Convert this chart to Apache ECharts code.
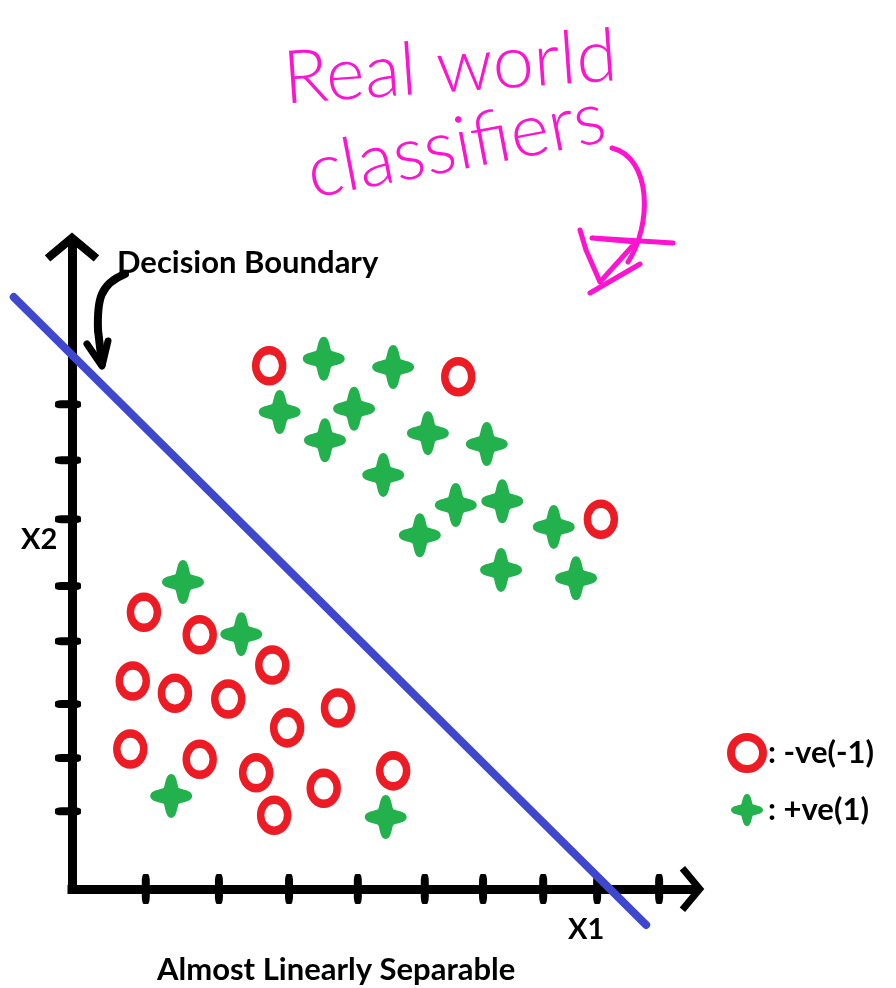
<!DOCTYPE html>
<html>
<head>
<meta charset="utf-8">
<script src="https://cdn.jsdelivr.net/npm/echarts@6/dist/echarts.min.js"></script>
<style>
  html, body { margin: 0; padding: 0; background: #fff; }
  #chart { width: 896px; height: 988px; }
</style>
</head>
<body>
<div id="chart"></div>
<script>
// Class +1 samples (green stars), [X1, X2]
const positivePoints = [
  [4.06, 8.26], [5.18, 8.13], [3.35, 7.43], [4.55, 7.48], [4.08, 6.99],
  [5.74, 7.10], [6.69, 6.93], [5.02, 6.45], [6.19, 5.98], [6.94, 6.04],
  [5.61, 5.51], [7.77, 5.64], [6.92, 4.97], [8.13, 4.84], [1.79, 4.78],
  [2.73, 3.97], [1.60, 1.45], [5.06, 1.12]
];
// Class -1 samples (red rings), [X1, X2]
const negativePoints = [
  [3.18, 8.15], [6.23, 7.98], [8.53, 5.76], [1.16, 4.31], [2.06, 3.96],
  [3.23, 3.49], [0.98, 3.24], [1.66, 3.05], [2.52, 2.96], [3.47, 2.51],
  [4.29, 2.82], [0.94, 2.18], [2.06, 2.02], [2.97, 1.81], [4.06, 1.57],
  [5.18, 1.84], [3.26, 1.15]
];
// Separating line end points
const boundaryStart = [-0.94, 9.22];
const boundaryEnd = [9.26, -0.56];
// Hand-placed tick marks along each axis
const x1Ticks = [1.19, 2.37, 3.50, 4.61, 5.69, 6.63, 7.60, 8.47, 9.47];
const x2Ticks = [1.21, 2.04, 2.88, 3.86, 4.72, 5.76, 6.68, 7.55];

const seriesNames = [': -ve(-1)', ': +ve(1)'];

const RED = '#ED1C24';
const GREEN = '#22B14C';
const BLUE = '#3F48CC';
const PINK = '#FF12D0';

const ringPath = 'path://M50,0 C77.6,0 100,22.4 100,50 C100,77.6 77.6,100 50,100 C22.4,100 0,77.6 0,50 C0,22.4 22.4,0 50,0 Z';
const starPath = 'path://M50,0 C64,0 64,26 68,32 C74,36 100,36 100,50 C100,64 74,64 68,68 C64,74 64,100 50,100 C36,100 36,74 32,68 C26,64 0,64 0,50 C0,36 26,36 32,32 C36,26 36,0 50,0 Z';
const chevronPath = 'path://M30,0 L60,25 L54,32 L30,12 L6,32 L0,25 Z';

const labelFont = 'bold 31px Lato';
const axisNameFont = 'bold 29px Lato';
const handFont = '300 74px Lato';

function txt(text, x, y, font, fill, align, rotation) {
  return {
    type: 'text', x: x, y: y, rotation: rotation || 0, silent: true, z: 20,
    style: {
      text: text, font: font, fill: fill,
      align: align, verticalAlign: 'middle',
      textAlign: align, textVerticalAlign: 'middle'
    }
  };
}

const chart = echarts.init(document.getElementById('chart'), null, { renderer: 'canvas' });

chart.setOption({
  backgroundColor: '#fff',
  animation: false,
  grid: { left: 72, right: 204, top: 247, bottom: 99 },
  xAxis: {
    type: 'value', min: 0, max: 10,
    axisLine: {
      show: true, onZero: false,
      symbol: ['none', chevronPath], symbolSize: [46, 25],
      lineStyle: { color: '#000', width: 9, cap: 'square' }
    },
    axisTick: { show: false }, axisLabel: { show: false }, splitLine: { show: false }
  },
  yAxis: {
    type: 'value', min: 0, max: 10,
    axisLine: {
      show: true, onZero: false,
      symbol: ['none', chevronPath], symbolSize: [56, 29],
      lineStyle: { color: '#000', width: 9, cap: 'square' }
    },
    axisTick: { show: false }, axisLabel: { show: false }, splitLine: { show: false }
  },
  legend: {
    orient: 'vertical', left: 727, top: 733, padding: 0,
    itemWidth: 32, itemHeight: 36, itemGap: 21, itemTextGap: 19,
    selectedMode: false,
    textStyle: { fontFamily: 'Lato', fontWeight: 'bold', fontSize: 31, color: '#000' },
    data: [
      { name: seriesNames[0], icon: ringPath, itemStyle: { color: 'rgba(0,0,0,0)', borderColor: RED, borderWidth: 8, opacity: 1 } },
      { name: seriesNames[1], icon: starPath, itemStyle: { color: GREEN, borderWidth: 0, opacity: 1 } }
    ]
  },
  series: [
    {
      name: 'x1 ticks', type: 'scatter', silent: true, clip: false, z: 3,
      symbol: 'roundRect', symbolSize: [8, 30],
      itemStyle: { color: '#000', opacity: 1 },
      data: x1Ticks.map(v => [v, 0])
    },
    {
      name: 'x2 ticks', type: 'scatter', silent: true, clip: false, z: 3,
      symbol: 'roundRect', symbolSize: [26, 8], symbolOffset: [-4, 0],
      itemStyle: { color: '#000', opacity: 1 },
      data: x2Ticks.map(v => [0, v])
    },
    {
      // decision boundary drawn through the axis scales, running past both axes
      name: 'boundary', type: 'custom', silent: true, clip: false, z: 4,
      data: [boundaryStart.concat(boundaryEnd)],
      renderItem: function (params, api) {
        const a = api.coord([api.value(0), api.value(1)]);
        const b = api.coord([api.value(2), api.value(3)]);
        return {
          type: 'line',
          shape: { x1: a[0], y1: a[1], x2: b[0], y2: b[1] },
          style: { stroke: BLUE, lineWidth: 8, lineCap: 'round', fill: null }
        };
      }
    },
    {
      name: seriesNames[0], type: 'scatter', clip: false, z: 5,
      symbol: ringPath, symbolSize: [27, 31],
      itemStyle: { color: 'rgba(0,0,0,0)', borderColor: RED, borderWidth: 8, opacity: 1 },
      data: negativePoints
    },
    {
      name: seriesNames[1], type: 'scatter', clip: false, z: 5,
      symbol: starPath, symbolSize: [42, 44],
      itemStyle: { color: GREEN, opacity: 1 },
      data: positivePoints
    }
  ],
  graphic: [
    txt('Decision Boundary', 117, 263, labelFont, '#000', 'left'),
    txt('X2', 21, 540, axisNameFont, '#000', 'left'),
    txt('X1', 568, 930, axisNameFont, '#000', 'left'),
    txt('Almost Linearly Separable', 157, 970, labelFont, '#000', 'left'),
    // pointer from the label to the boundary line
    {
      type: 'bezierCurve', silent: true, z: 20,
      shape: { x1: 125, y1: 274, cpx1: 100, cpy1: 284, cpx2: 97, cpy2: 300, x2: 98, y2: 330 },
      style: { stroke: '#000', lineWidth: 8, fill: 'none', lineCap: 'round' }
    },
    {
      type: 'polyline', silent: true, z: 20,
      shape: { points: [[98, 330], [102, 364]] },
      style: { stroke: '#000', lineWidth: 8, lineCap: 'round' }
    },
    {
      type: 'polyline', silent: true, z: 20,
      shape: { points: [[87, 344], [102, 366], [108, 341]] },
      style: { stroke: '#000', lineWidth: 7, lineCap: 'round', lineJoin: 'round' }
    },
    // handwritten note
    txt('Real world', 450, 68, handFont, PINK, 'center', 0.07),
    txt('classifiers', 456, 146, handFont, PINK, 'center', 0.19),
    {
      type: 'bezierCurve', silent: true, z: 20,
      shape: { x1: 612, y1: 148, cpx1: 652, cpy1: 158, cpx2: 652, cpy2: 225, x2: 628, y2: 262 },
      style: { stroke: PINK, lineWidth: 5, fill: 'none', lineCap: 'round' }
    },
    {
      type: 'polyline', silent: true, z: 20,
      shape: { points: [[580, 230], [586, 250], [600, 282], [636, 242], [592, 238], [673, 243]] },
      style: { stroke: PINK, lineWidth: 5, lineCap: 'round', lineJoin: 'round' }
    },
    {
      type: 'polyline', silent: true, z: 20,
      shape: { points: [[590, 293], [640, 264]] },
      style: { stroke: PINK, lineWidth: 5, lineCap: 'round' }
    }
  ]
});
</script>
</body>
</html>
